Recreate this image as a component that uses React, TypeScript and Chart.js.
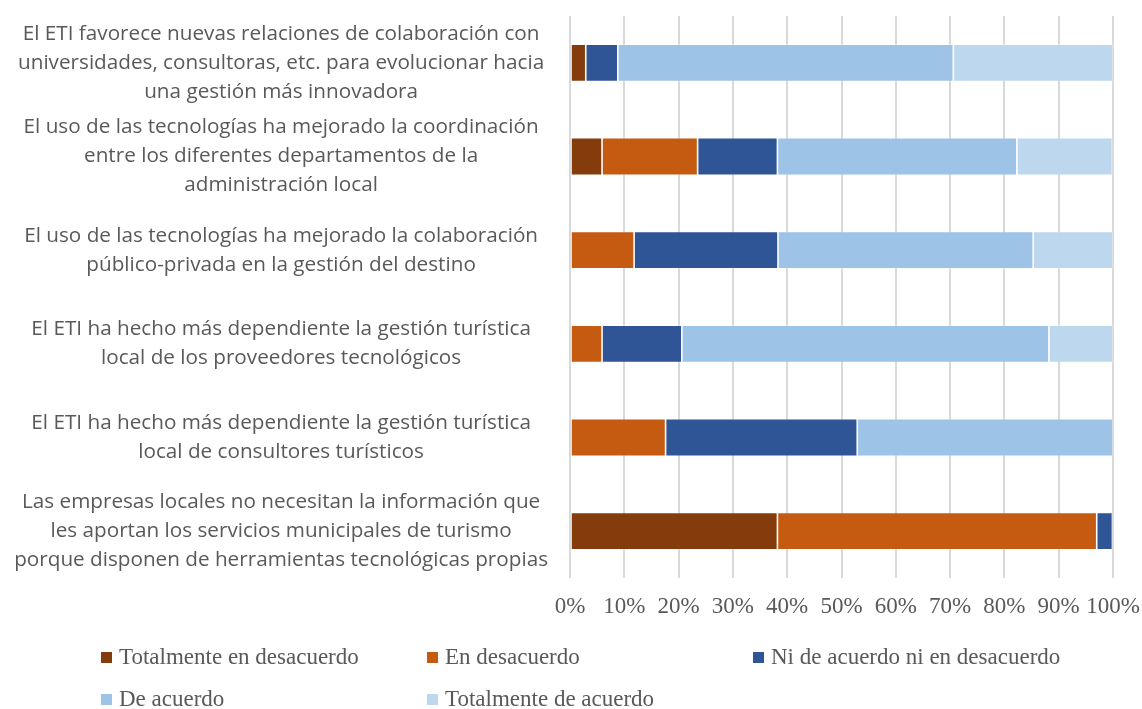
import React, { useEffect, useRef } from "react";
import { Chart, registerables } from "chart.js";

Chart.register(...registerables);

const categories: string[][] = [
  ["El ETI favorece nuevas relaciones de colaboración con", "universidades, consultoras, etc. para evolucionar hacia", "una gestión más innovadora"],
  ["El uso de las tecnologías ha mejorado la coordinación", "entre los diferentes departamentos de la", "administración local"],
  ["El uso de las tecnologías ha mejorado la colaboración", "público-privada en la gestión del destino"],
  ["El ETI ha hecho más dependiente la gestión turística", "local de los proveedores tecnológicos"],
  ["El ETI ha hecho más dependiente la gestión turística", "local de consultores turísticos"],
  ["Las empresas locales no necesitan la información que", "les aportan los servicios municipales de turismo", "porque disponen de herramientas tecnológicas propias"],
];

const seriesNames = [
  "Totalmente en desacuerdo",
  "En desacuerdo",
  "Ni de acuerdo ni en desacuerdo",
  "De acuerdo",
  "Totalmente de acuerdo",
];

const totalmenteEnDesacuerdo = [2.9, 5.9, 0, 0, 0, 38.2];
const enDesacuerdo = [0, 17.6, 11.8, 5.9, 17.6, 58.8];
const niDeAcuerdoNiEnDesacuerdo = [5.9, 14.7, 26.5, 14.7, 35.3, 2.9];
const deAcuerdo = [61.8, 44.1, 47.0, 67.6, 47.1, 0];
const totalmenteDeAcuerdo = [29.4, 17.6, 14.7, 11.8, 0, 0];

const seriesValues = [
  totalmenteEnDesacuerdo,
  enDesacuerdo,
  niDeAcuerdoNiEnDesacuerdo,
  deAcuerdo,
  totalmenteDeAcuerdo,
];

const seriesColors = ["#843C0C", "#C55A11", "#2F5597", "#9DC3E6", "#BDD7EE"];

const xTicks = [0, 10, 20, 30, 40, 50, 60, 70, 80, 90, 100];

const TEXT = "#595959";
const SERIF = "'Liberation Serif', 'Times New Roman', serif";
const SANS = "'Open Sans', 'Noto Sans', sans-serif";

const legendCols = [101, 427, 753];
const legendRows = [657, 699];

export default function App() {
  const ref = useRef<HTMLCanvasElement | null>(null);

  useEffect(() => {
    if (!ref.current) return;
    const chart = new Chart(ref.current, {
      type: "bar",
      data: {
        labels: categories,
        datasets: seriesNames.map((name, i) => ({
          label: name,
          data: seriesValues[i],
          backgroundColor: seriesColors[i],
          borderColor: "rgba(255,255,255,0.35)",
          borderWidth: 0.8,
          borderSkipped: false,
          barPercentage: 0.4,
          categoryPercentage: 1.0,
        })),
      },
      options: {
        indexAxis: "y",
        responsive: false,
        animation: false,
        layout: { padding: { top: 16, left: 0, right: 29, bottom: 83 } },
        plugins: {
          legend: { display: false },
          tooltip: { enabled: false },
        },
        scales: {
          x: {
            stacked: true,
            min: 0,
            max: 100,
            afterBuildTicks: (scale: any) => {
              scale.ticks = xTicks.map((v) => ({ value: v }));
            },
            afterFit: (scale: any) => {
              scale.paddingLeft = 0;
              scale.paddingRight = 0;
              scale.height = 48;
            },
            ticks: {
              callback: (v: any) => v + "%",
              color: TEXT,
              font: { family: SERIF, size: 23 },
              padding: 15,
              maxRotation: 0,
              autoSkip: false,
            },
            grid: { color: "#d9d9d9", lineWidth: 2, drawTicks: false },
            border: { display: false },
          },
          y: {
            stacked: true,
            afterFit: (scale: any) => {
              scale.width = 570;
              scale.paddingTop = 0;
              scale.paddingBottom = 0;
            },
            ticks: {
              crossAlign: "center",
              color: TEXT,
              font: { family: SANS, size: 20.7, lineHeight: 29 / 20.7 },
              padding: 22,
              autoSkip: false,
            },
            grid: { display: false, drawTicks: false },
            border: { display: false },
          },
        },
      },
    });
    return () => chart.destroy();
  }, []);

  return (
    <div style={{ position: "absolute", left: 0, top: 0, width: 1142, height: 709, background: "#fff" }}>
      <canvas ref={ref} width={1142} height={709} style={{ display: "block" }} />
      {seriesNames.map((name, i) => {
        const col = legendCols[i % 3];
        const row = legendRows[Math.floor(i / 3)];
        return (
          <div
            key={name}
            style={{
              position: "absolute",
              left: col,
              top: row - 16,
              height: 32,
              display: "flex",
              alignItems: "center",
              whiteSpace: "nowrap",
              fontFamily: SERIF,
              fontSize: 23,
              color: TEXT,
            }}
          >
            <span style={{ display: "inline-block", width: 11, height: 11, background: seriesColors[i], marginRight: 7 }} />
            <span>{name}</span>
          </div>
        );
      })}
    </div>
  );
}
